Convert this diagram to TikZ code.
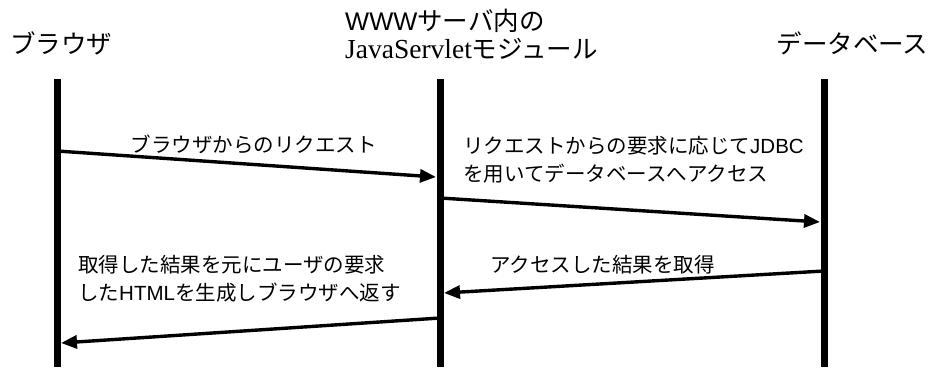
\documentclass[tikz,border=0pt]{standalone}
\usepackage{fontspec}
\setmainfont{Noto Sans CJK JP}
\newfontfamily\latsans{Liberation Sans}
\newfontfamily\latserif{Liberation Serif}
\usetikzlibrary{arrows.meta}
\begin{document}
\begin{tikzpicture}[x=1pt, y=-1pt,
  lifeline/.style={line width=7pt},
  msg/.style={line width=3.4pt, -{Triangle[length=16pt,width=13pt]}},
  header/.style={inner sep=0pt, font=\fontsize{25.5}{28}\selectfont},
  label/.style={inner sep=0pt, font=\fontsize{20.5}{27.5}\selectfont}]
\useasboundingbox (0,0) rectangle (941,367);

% lifelines
\coordinate (brTop) at (57,79);   \coordinate (brBot) at (57,367);
\coordinate (svTop) at (440,79);  \coordinate (svBot) at (440,367);
\coordinate (dbTop) at (824,79);  \coordinate (dbBot) at (824,367);
\draw[lifeline] (brTop) -- (brBot);
\draw[lifeline] (svTop) -- (svBot);
\draw[lifeline] (dbTop) -- (dbBot);

% participant titles
\node[header] (brHead) at (61,43) {ブラウザ};
\node[header, anchor=west, align=left] (svHead) at (345,34)
  {{\latsans WWW}サーバ内の\\{\latserif\fontsize{27.5}{28}\selectfont JavaServlet}モジュール};
\node[header] (dbHead) at (852.5,43) {データベース};

% message end points on the lifelines
\coordinate (m1s) at (57,151);  \coordinate (m1e) at (436,177);
\coordinate (m2s) at (440,198); \coordinate (m2e) at (820,222);
\coordinate (m3s) at (824,271); \coordinate (m3e) at (444,293);
\coordinate (m4s) at (440,318); \coordinate (m4e) at (61,343);

\draw[msg] (m1s) -- (m1e);
\draw[msg] (m2s) -- (m2e);
\draw[msg] (m3s) -- (m3e);
\draw[msg] (m4s) -- (m4e);

% message labels
\node[label] (l1) at (253.5,144) {ブラウザからのリクエスト};
\node[label, anchor=west, align=left] (l2) at (463,160)
  {リクエストからの要求に応じて{\latsans JDBC}\\を用いてデータベースへアクセス};
\node[label] (l3) at (602.5,265) {アクセスした結果を取得};
\node[label, anchor=west, align=left] (l4) at (78,279)
  {取得した結果を元にユーザの要求\\した{\latsans HTML}を生成しブラウザへ返す};
\end{tikzpicture}
\end{document}
